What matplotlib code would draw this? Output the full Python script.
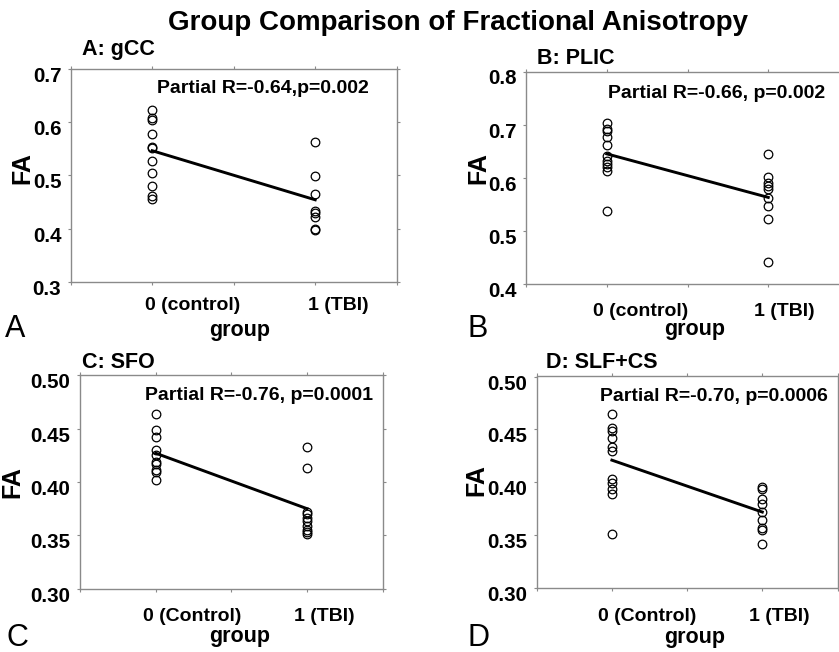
import matplotlib
matplotlib.use("Agg")
import matplotlib.pyplot as plt
import matplotlib.transforms as mtransforms

plt.rcParams['font.family'] = ['Liberation Sans', 'DejaVu Sans']

# ---------------- data ----------------
main_title = "Group Comparison of Fractional Anisotropy"
panel_titles = ["A: gCC", "B: PLIC", "C: SFO", "D: SLF+CS"]
panel_letters = ["A", "B", "C", "D"]
stats_text = ["Partial R=-0.64,p=0.002", "Partial R=-0.66, p=0.002",
              "Partial R=-0.76, p=0.0001", "Partial R=-0.70, p=0.0006"]
group_labels_lower = ["0 (control)", "1 (TBI)"]
group_labels_upper = ["0 (Control)", "1 (TBI)"]
x_label = "group"
y_label = "FA"

gcc_control = [0.622, 0.607, 0.604, 0.578, 0.553, 0.551, 0.526, 0.505, 0.479, 0.462, 0.456]
gcc_tbi = [0.563, 0.499, 0.464, 0.433, 0.429, 0.422, 0.400, 0.397]
gcc_line = [0.546, 0.454]

plic_control = [0.704, 0.691, 0.688, 0.676, 0.662, 0.641, 0.632, 0.625, 0.620, 0.613, 0.537]
plic_tbi = [0.644, 0.601, 0.591, 0.585, 0.578, 0.561, 0.546, 0.522, 0.441]
plic_line = [0.645, 0.563]

sfo_control = [0.4635, 0.449, 0.442, 0.430, 0.425, 0.4185, 0.417, 0.411, 0.409, 0.402]
sfo_tbi = [0.4327, 0.413, 0.372, 0.370, 0.3667, 0.363, 0.359, 0.355, 0.353, 0.351]
sfo_line = [0.427, 0.375]

slf_control = [0.4648, 0.451, 0.4484, 0.4415, 0.4336, 0.4299, 0.4028, 0.3997, 0.3934, 0.3887, 0.351]
slf_tbi = [0.3959, 0.3934, 0.384, 0.380, 0.3723, 0.3645, 0.3566, 0.355, 0.3418]
slf_line = [0.421, 0.372]

controls = [gcc_control, plic_control, sfo_control, slf_control]
tbis = [gcc_tbi, plic_tbi, sfo_tbi, slf_tbi]
lines = [gcc_line, plic_line, sfo_line, slf_line]
yticks = [[0.3, 0.4, 0.5, 0.6, 0.7], [0.4, 0.5, 0.6, 0.7, 0.8],
          [0.30, 0.35, 0.40, 0.45, 0.50], [0.30, 0.35, 0.40, 0.45, 0.50]]
ytick_fmt = ["{:.1f}", "{:.1f}", "{:.2f}", "{:.2f}"]
xtick_labels = [group_labels_lower, group_labels_lower, group_labels_upper, group_labels_upper]

# ---------------- layout ----------------
W, H = 839, 652
fig = plt.figure(figsize=(W / 100, H / 100), dpi=100)

def px_rect(l, r, t, b):
    return [l / W, (H - b) / H, (r - l) / W, (b - t) / H]

rects = [px_rect(70.7, 396.7, 68.5, 282), px_rect(526, 849, 71.5, 284),
         px_rect(80, 382.7, 375.3, 588.7), px_rect(536.7, 837.5, 376.5, 588.3)]
xtick_pads = [8.4, 11.0, 11.2, 11.5]
xtick_shift = [-7, -14, -13, -13.5]
text_pos = [(0.265, 0.906), (0.253, 0.898), (0.215, 0.907), (0.209, 0.906)]
ylabel_pos = [(-0.149, 0.535), (-0.146, 0.546), (-0.225, 0.498), (-0.199, 0.509)]
xlabel_pos = [(0.519, -0.225), (0.523, -0.216), (0.527, -0.226), (0.526, -0.231)]
title_px = [(82, 50), (537, 58), (82, 362.5), (546, 362.5)]
letter_px = [(5, 329), (467, 329), (7, 638), (467, 638)]

spine_col = "#8a8a8a"

for i in range(4):
    ax = fig.add_axes(rects[i])
    ax.plot([0] * len(controls[i]), controls[i], 'o', mfc='none', mec='black',
            ms=6.2, mew=0.9, zorder=3, clip_on=False)
    ax.plot([1] * len(tbis[i]), tbis[i], 'o', mfc='none', mec='black',
            ms=6.2, mew=0.9, zorder=3, clip_on=False)
    ax.plot([0, 1], lines[i], '-', color='black', lw=2.1, zorder=4)
    ax.set_xlim(-0.5, 1.5)
    ax.set_ylim(yticks[i][0], yticks[i][-1])
    ax.set_xticks([-0.5, 0, 0.5, 1, 1.5])
    ax.set_xticklabels(["", xtick_labels[i][0], "", xtick_labels[i][1], ""])
    ax.set_yticks(yticks[i])
    ax.set_yticklabels([ytick_fmt[i].format(v) for v in yticks[i]])
    for s in ax.spines.values():
        s.set_color(spine_col)
        s.set_linewidth(1.0)
    ax.tick_params(axis='both', which='both', direction='out', length=2.5, width=0.8,
                   color=spine_col, top=True, right=True)
    ax.tick_params(axis='x', pad=xtick_pads[i], labelsize=14)
    ax.tick_params(axis='y', pad=4.3, labelsize=14.8)
    for lab in ax.get_xticklabels():
        lab.set_fontweight('bold')
        lab.set_ha('left')
        lab.set_transform(lab.get_transform() +
                          mtransforms.ScaledTranslation(xtick_shift[i] / 100, 0, fig.dpi_scale_trans))
    for lab in ax.get_yticklabels():
        lab.set_fontweight('bold')
        lab.set_transform(lab.get_transform() +
                          mtransforms.ScaledTranslation(0, -5.5 / 100, fig.dpi_scale_trans))
    ax.set_xlabel(x_label, fontsize=15.5, fontweight='bold', va='center')
    ax.xaxis.set_label_coords(*xlabel_pos[i])
    ax.set_ylabel(y_label, fontsize=18, fontweight='bold', va='center')
    ax.yaxis.set_label_coords(*ylabel_pos[i])
    ax.text(text_pos[i][0], text_pos[i][1], stats_text[i], transform=ax.transAxes,
            ha='left', va='center', fontsize=14, fontweight='bold')
    fig.text(title_px[i][0] / W, 1 - title_px[i][1] / H, panel_titles[i],
             ha='left', va='center', fontsize=15.5, fontweight='bold')
    fig.text(letter_px[i][0] / W, 1 - letter_px[i][1] / H, panel_letters[i],
             ha='left', va='center', fontsize=22, fontweight='light')

fig.text(458 / W, 1 - 23 / H, main_title, ha='center', va='center',
         fontsize=20, fontweight='bold')

fig.savefig("out.png", dpi=100)
